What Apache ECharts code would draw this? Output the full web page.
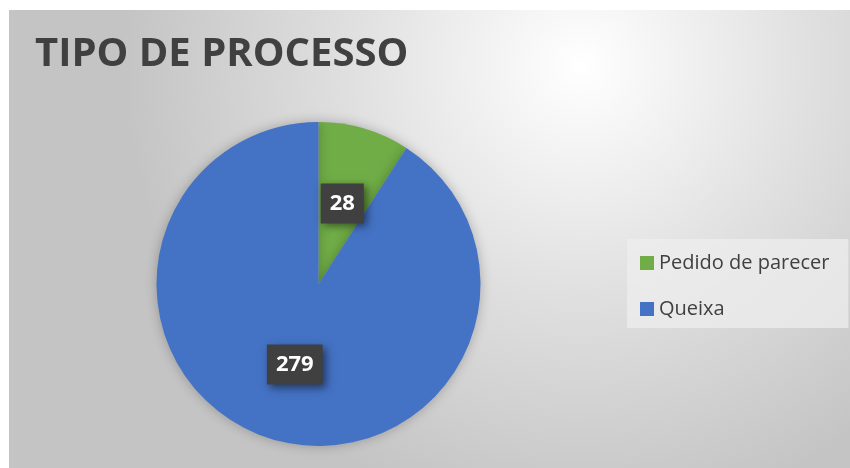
<!DOCTYPE html>
<html>
<head>
<meta charset="utf-8">
<script src="https://cdn.jsdelivr.net/npm/echarts@6/dist/echarts.min.js"></script>
<style>
  html, body { margin: 0; padding: 0; background: #ffffff; }
  #chart { position: absolute; left: 9px; top: 10px; width: 841px; height: 458px; }
</style>
</head>
<body>
<div id="chart"></div>
<script>
  // dados
  const categories = ['Pedido de parecer', 'Queixa']
  const values = [28, 279]
  const colors = ['#70ad47', '#4472c4']

  const chart = echarts.init(document.getElementById('chart'))

  const option = {
    backgroundColor: {
      type: 'radial', x: 0.68, y: 0.12, r: 1.0,
      colorStops: [
        { offset: 0, color: '#ffffff' },
        { offset: 0.5, color: '#e0e0e0' },
        { offset: 1, color: '#c4c4c4' }
      ]
    },
    title: {
      text: 'TIPO DE PROCESSO',
      left: 21,
      top: 20,
      textStyle: { fontFamily: 'Open Sans', fontWeight: 'bold', fontSize: 40, color: '#404040' }
    },
    legend: {
      orient: 'vertical',
      left: 618,
      top: 229,
      data: categories,
      icon: 'rect',
      itemWidth: 14,
      itemHeight: 14,
      itemGap: 22,
      padding: [12, 19, 7, 13],
      backgroundColor: 'rgba(238,238,238,0.75)',
      textStyle: { fontFamily: 'Open Sans', fontSize: 20, color: '#404040', lineHeight: 24 }
    },
    series: [
      {
        type: 'pie',
        center: [309.5, 274],
        radius: [0, 162],
        startAngle: 90,
        clockwise: true,
        silent: true,
        itemStyle: { shadowBlur: 12, shadowColor: 'rgba(0,0,0,0.25)' },
        label: {
          position: 'inside',
          formatter: '{c}',
          fontFamily: 'Open Sans',
          fontWeight: 'bold',
          fontSize: 22,
          color: '#ffffff',
          backgroundColor: '#404040',
          padding: [10, 9, 8, 9],
          shadowBlur: 8,
          shadowOffsetX: 3,
          shadowOffsetY: 3,
          shadowColor: 'rgba(0,0,0,0.5)'
        },
        labelLine: { show: false },
        data: categories.map((name, i) => ({
          name,
          value: values[i],
          itemStyle: { color: colors[i] }
        }))
      }
    ]
  }

  chart.setOption(option)
</script>
</body>
</html>
